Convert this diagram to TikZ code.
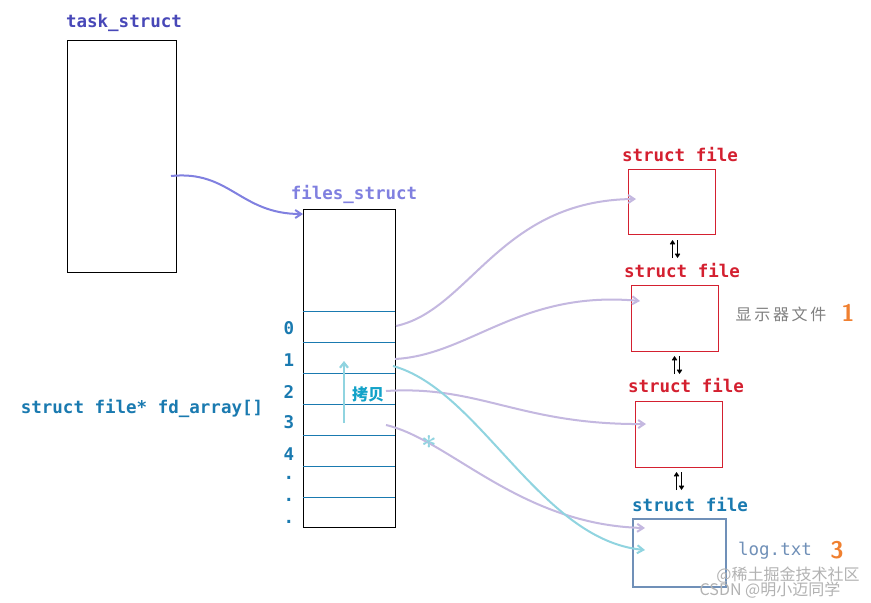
\documentclass[tikz,border=0pt]{standalone}
\usepackage{fontspec}
\setmonofont{DejaVu Sans Mono}
\newfontfamily\cjk{Noto Sans CJK SC}
\usetikzlibrary{arrows.meta}
\definecolor{tblue}{HTML}{4848B8}
\definecolor{fblue}{HTML}{8080E0}
\definecolor{lblue}{HTML}{1A7AB0}
\definecolor{sred}{HTML}{D42030}
\definecolor{lav}{HTML}{C4B8E0}
\definecolor{cyan1}{HTML}{90D4E0}
\definecolor{gbox}{HTML}{7090B8}
\definecolor{orng}{HTML}{F08030}
\tikzset{
 lbl/.style={font=\ttfamily\bfseries\fontsize{17.5}{20}\selectfont, inner sep=0pt},
 box/.style={draw, line width=0.8pt, inner sep=0pt},
 lav/.style={draw=lav, line width=2pt, -{Straight Barb[length=6pt,width=8pt]}},
 sw/.style={line width=1.5pt, -{Straight Barb[length=3pt,width=4pt]}},
 big/.style={text=orng, inner sep=0pt, font=\sffamily\bfseries\fontsize{24}{26}\selectfont}
}
\begin{document}
\begin{tikzpicture}[x=1pt,y=-1pt]
\useasboundingbox[fill=white] (0,0) rectangle (871,603);
\node[lbl, text=tblue] (tl) at (124,23) {task\_struct};
\node[box, minimum width=109pt, minimum height=232pt] (task) at (121.5,156) {};
\node[lbl, text=fblue] (fl) at (354,194) {files\_struct};
\node[box, minimum width=92pt, minimum height=318pt] (files) at (349,368) {};
\foreach \y in {311,342,373,404,435,466,497} \draw[lblue, line width=0.8pt] (303,\y) -- (395,\y);
\foreach \t/\y in {0/328,1/360,2/392,3/422,4/454,./478,./500,./522}
  \node[lbl, text=lblue] at (289,\y) {\t};
\node[lbl, text=lblue] (fd) at (142,408) {struct file* fd\_array[]};
% struct files
\node[box, draw=sred, minimum width=87pt, minimum height=65pt] (f1) at (671.5,201.5) {};
\node[lbl, text=sred] at (680,155) {struct file};
\node[box, draw=sred, minimum width=87pt, minimum height=66pt] (f2) at (674.5,318) {};
\node[lbl, text=sred] at (682,271) {struct file};
\node[box, draw=sred, minimum width=87pt, minimum height=66pt] (f3) at (678.5,434) {};
\node[lbl, text=sred] at (686,386) {struct file};
\node[box, draw=gbox, line width=2.4pt, minimum width=93pt, minimum height=68pt] (f4) at (679.5,553) {};
\node[lbl, text=lblue] at (690,505) {struct file};
\foreach \x/\y in {675/249,677/365,679/481}{
  \draw[sw] (\x-2.5,\y+9) -- (\x-2.5,\y-9);
  \draw[sw] (\x+2.5,\y-9) -- (\x+2.5,\y+9);
}
\node[font=\cjk\fontsize{16}{18}\selectfont, text=gray, inner sep=0pt] at (781,314) {显\,示\,器\,文\,件};
\node[big] at (848,313) {1};
\node[lbl, text=gbox, font=\ttfamily\fontsize{17.5}{20}\selectfont] at (775,551) {log.txt};
\node[big] at (837,550) {3};
% connectors
\coordinate (t0) at (171,176);
\coordinate (a0) at (396,326); \coordinate (a1) at (395,359);
\coordinate (a2) at (386,391); \coordinate (a3) at (386,425);
\coordinate (c1) at (393,366);
\draw[draw=fblue, line width=2pt, -{Straight Barb[length=6pt,width=8pt]}] (t0) .. controls (230,170) and (240,214) .. (303,214);
\draw[lav] (a0) .. controls (470,310) and (500,200) .. (636,199);
\draw[lav] (a1) .. controls (470,355) and (520,290) .. (640,301);
\draw[lav] (a2) .. controls (480,385) and (520,425) .. (646,424);
\draw[lav] (a3) .. controls (450,440) and (520,525) .. (645,528);
\draw[cyan1, line width=2pt, -{Straight Barb[length=6pt,width=8pt]}] (c1) .. controls (480,390) and (540,540) .. (645,550);
\node[text=cyan1, font=\bfseries\fontsize{28}{28}\selectfont, inner sep=0pt] at (429,446) {*};
\draw[cyan1, line width=2.2pt, -{Straight Barb[length=5pt,width=8pt]}] (344,423) -- (344,361);
\node[font=\cjk\bfseries\fontsize{16}{18}\selectfont, text=lblue!70!cyan, inner sep=0pt] at (368,394) {拷贝};
\node[font=\cjk\fontsize{16}{18}\selectfont, text=gray!60, inner sep=0pt] at (788,575) {@稀土掘金技术社区};
\node[font=\cjk\fontsize{16}{18}\selectfont, text=gray!60, inner sep=0pt] at (770,590) {CSDN @明小迈同学};
\end{tikzpicture}
\end{document}
